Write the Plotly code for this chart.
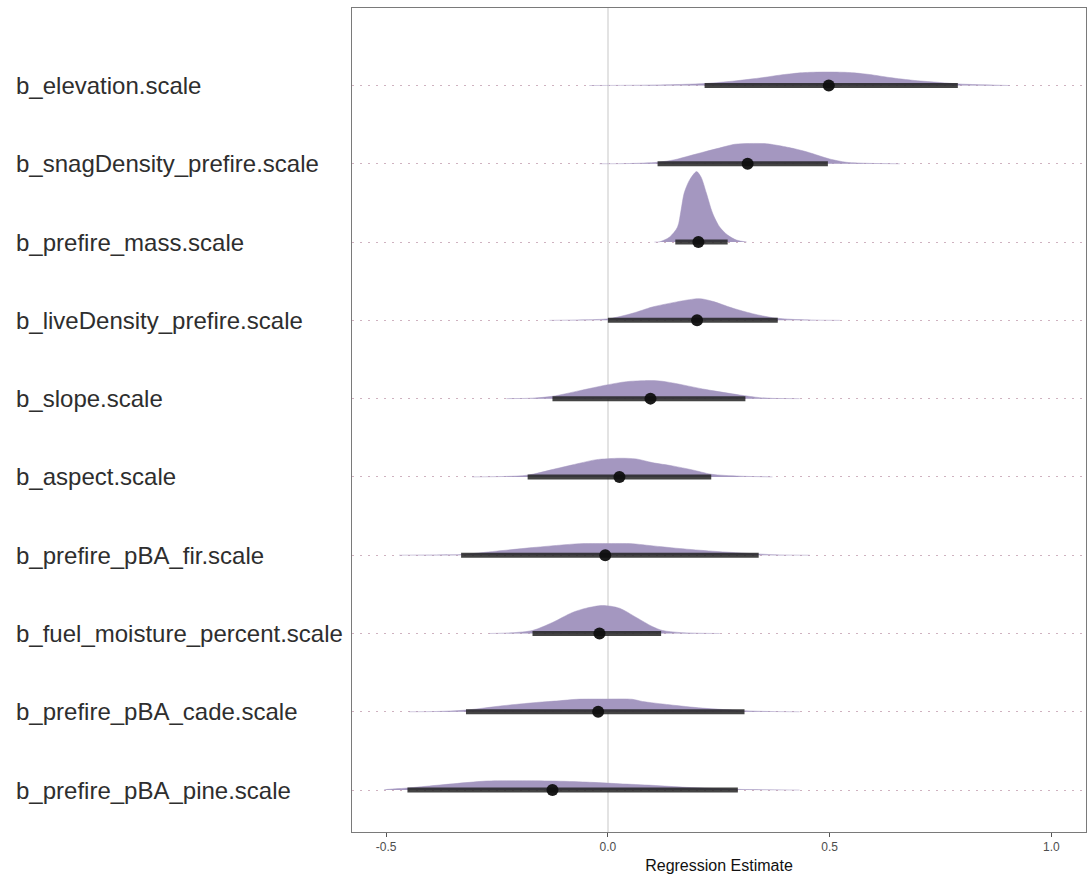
import plotly.graph_objects as go

# Posterior summaries for each scaled regression coefficient (top row first)
params = [
    "b_elevation.scale",
    "b_snagDensity_prefire.scale",
    "b_prefire_mass.scale",
    "b_liveDensity_prefire.scale",
    "b_slope.scale",
    "b_aspect.scale",
    "b_prefire_pBA_fir.scale",
    "b_fuel_moisture_percent.scale",
    "b_prefire_pBA_cade.scale",
    "b_prefire_pBA_pine.scale",
]
point_est = [0.498, 0.315, 0.204, 0.201, 0.096, 0.026, -0.006, -0.019, -0.022, -0.125]
ci_lower = [0.218, 0.112, 0.152, 0.000, -0.125, -0.181, -0.331, -0.170, -0.320, -0.452]
ci_upper = [0.789, 0.496, 0.270, 0.383, 0.310, 0.233, 0.340, 0.120, 0.308, 0.293]

# Posterior density outlines (x, density relative to the tallest curve)
dens_x_elevation = [-0.042, 0.071, 0.161, 0.218, 0.274, 0.342, 0.398, 0.444, 0.500, 0.545, 0.590, 0.635, 0.692, 0.748, 0.793, 0.850, 0.906]
dens_y_elevation = [0, 0.004, 0.014, 0.028, 0.057, 0.106, 0.156, 0.184, 0.191, 0.184, 0.156, 0.113, 0.071, 0.043, 0.021, 0.009, 0]

dens_x_snag = [-0.019, 0.049, 0.112, 0.150, 0.184, 0.218, 0.251, 0.286, 0.319, 0.358, 0.388, 0.421, 0.448, 0.478, 0.500, 0.538, 0.590, 0.658]
dens_y_snag = [0, 0.004, 0.021, 0.057, 0.113, 0.170, 0.223, 0.277, 0.288, 0.284, 0.255, 0.213, 0.170, 0.110, 0.068, 0.021, 0.006, 0]

dens_x_mass = [0.105, 0.117, 0.139, 0.157, 0.165, 0.172, 0.184, 0.200, 0.210, 0.222, 0.236, 0.252, 0.270, 0.290, 0.313]
dens_y_mass = [0, 0.004, 0.071, 0.213, 0.454, 0.695, 0.879, 1.0, 0.922, 0.695, 0.411, 0.213, 0.099, 0.028, 0]

dens_x_live = [-0.132, -0.058, 0.003, 0.055, 0.100, 0.146, 0.184, 0.207, 0.236, 0.281, 0.326, 0.371, 0.416, 0.471, 0.523]
dens_y_live = [0, 0.007, 0.024, 0.099, 0.189, 0.251, 0.294, 0.308, 0.270, 0.174, 0.095, 0.038, 0.014, 0.003, 0]

dens_x_slope = [-0.229, -0.170, -0.125, -0.064, -0.003, 0.042, 0.082, 0.116, 0.146, 0.222, 0.297, 0.342, 0.371, 0.432]
dens_y_slope = [0, 0.007, 0.033, 0.113, 0.194, 0.241, 0.255, 0.251, 0.223, 0.128, 0.052, 0.014, 0.004, 0]

dens_x_aspect = [-0.306, -0.229, -0.182, -0.116, -0.064, -0.026, 0.026, 0.064, 0.100, 0.146, 0.191, 0.233, 0.297, 0.371]
dens_y_aspect = [0, 0.007, 0.024, 0.118, 0.194, 0.245, 0.265, 0.255, 0.203, 0.156, 0.099, 0.038, 0.011, 0]

dens_x_fir = [-0.471, -0.403, -0.330, -0.252, -0.177, -0.109, -0.064, -0.006, 0.055, 0.087, 0.161, 0.236, 0.337, 0.387, 0.455]
dens_y_fir = [0, 0.004, 0.010, 0.057, 0.104, 0.142, 0.163, 0.166, 0.163, 0.142, 0.095, 0.057, 0.018, 0.004, 0]

dens_x_fuel = [-0.267, -0.216, -0.170, -0.125, -0.080, -0.049, -0.012, 0.026, 0.064, 0.100, 0.123, 0.161, 0.207, 0.252]
dens_y_fuel = [0, 0.010, 0.043, 0.156, 0.298, 0.359, 0.397, 0.359, 0.227, 0.099, 0.043, 0.014, 0.003, 0]

dens_x_cade = [-0.448, -0.387, -0.320, -0.238, -0.161, -0.110, -0.071, -0.008, 0.055, 0.078, 0.139, 0.213, 0.308, 0.365, 0.432]
dens_y_cade = [0, 0.004, 0.024, 0.085, 0.132, 0.156, 0.177, 0.180, 0.177, 0.146, 0.099, 0.052, 0.014, 0.004, 0]

dens_x_pine = [-0.505, -0.500, -0.453, -0.387, -0.313, -0.274, -0.200, -0.125, -0.049, 0.026, 0.100, 0.177, 0.292, 0.365, 0.432]
dens_y_pine = [0, 0.007, 0.028, 0.067, 0.109, 0.128, 0.132, 0.128, 0.113, 0.089, 0.067, 0.038, 0.010, 0.003, 0]

dens_x = [dens_x_elevation, dens_x_snag, dens_x_mass, dens_x_live, dens_x_slope,
          dens_x_aspect, dens_x_fir, dens_x_fuel, dens_x_cade, dens_x_pine]
dens_y = [dens_y_elevation, dens_y_snag, dens_y_mass, dens_y_live, dens_y_slope,
          dens_y_aspect, dens_y_fir, dens_y_fuel, dens_y_cade, dens_y_pine]

x_ticks = [-0.5, 0.0, 0.5, 1.0]
x_ticklabels = ["-0.5", "0.0", "0.5", "1.0"]

# Layout geometry
W, H = 1087, 882
M_L, M_R, M_T, M_B = 352, 1, 8, 50
SCALE = 0.9
FILL = "#A497C0"

n = len(params)
rows = [n - i for i in range(n)]  # top parameter sits on the highest row

fig = go.Figure()

for i in range(n):
    r = rows[i]
    xs = list(dens_x[i])
    ys = [r + SCALE * d for d in dens_y[i]]
    fig.add_trace(go.Scatter(
        x=xs, y=ys, mode="lines", fill="toself", fillcolor=FILL,
        line=dict(color=FILL, width=0.5, shape="spline", smoothing=0.8),
        hoverinfo="skip", showlegend=False,
    ))

for i in range(n):
    r = rows[i]
    fig.add_trace(go.Scatter(
        x=[ci_lower[i], ci_upper[i]], y=[r, r], mode="lines",
        line=dict(color="rgba(35,35,35,0.85)", width=5),
        hoverinfo="skip", showlegend=False,
    ))

fig.add_trace(go.Scatter(
    x=point_est, y=rows, mode="markers",
    marker=dict(color="rgba(15,15,15,0.95)", size=12, line=dict(width=0)),
    hoverinfo="skip", showlegend=False,
))

# Parameter names, left aligned at the figure's left edge
plot_w = W - M_L - M_R
for i in range(n):
    fig.add_annotation(
        x=(14 - M_L) / plot_w, xref="paper", xanchor="left",
        y=rows[i], yref="y", yanchor="middle",
        text=params[i], showarrow=False,
        font=dict(family="Liberation Sans, Arial, sans-serif", size=24, color="#2E2E2E"),
    )

fig.update_layout(
    width=W, height=H,
    margin=dict(l=M_L, r=M_R, t=M_T, b=M_B),
    paper_bgcolor="white", plot_bgcolor="white",
    font=dict(family="Liberation Sans, Arial, sans-serif"),
    xaxis=dict(
        range=[-0.577, 1.078],
        tickvals=x_ticks, ticktext=x_ticklabels,
        ticks="outside", ticklen=4, tickcolor="#555555", tickwidth=1,
        tickfont=dict(size=12, color="#4D4D4D"),
        showgrid=False,
        zeroline=True, zerolinecolor="#E3E3E3", zerolinewidth=1.5,
        showline=True, linecolor="#7A7A7A", linewidth=1, mirror=True,
        title=dict(text="Regression Estimate", font=dict(size=16, color="#111111"), standoff=6),
    ),
    yaxis=dict(
        range=[0.464, 10.99],
        tickvals=rows, showticklabels=False, ticks="",
        showgrid=True, gridcolor="#CFB2C0", gridwidth=1, griddash="2px,6px",
        zeroline=False,
        showline=True, linecolor="#7A7A7A", linewidth=1, mirror=True,
    ),
)

fig.write_html("out.html")
